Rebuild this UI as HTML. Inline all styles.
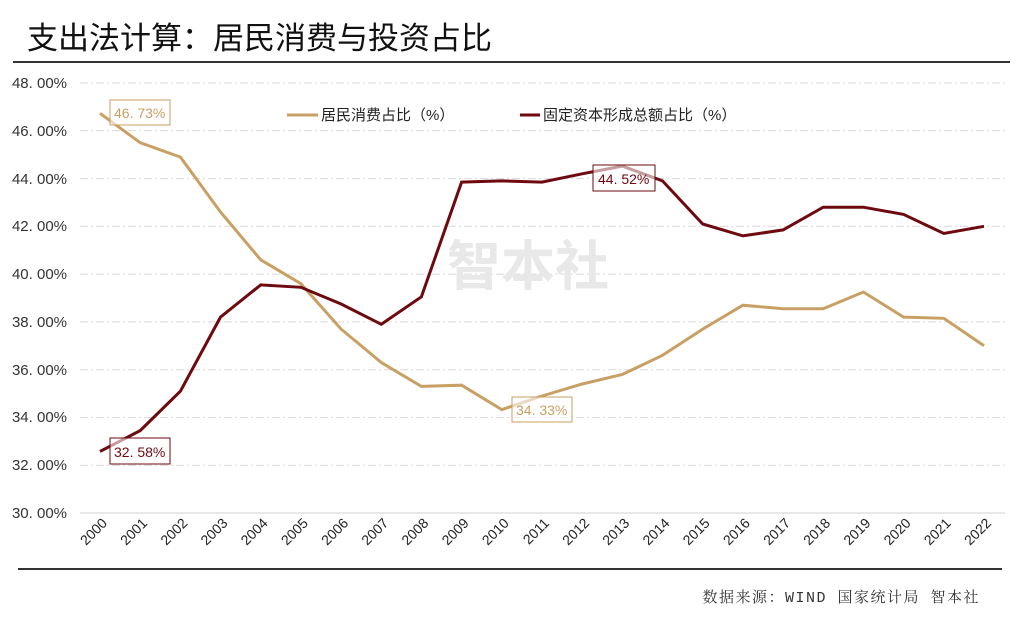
<!DOCTYPE html>
<html><head><meta charset="utf-8"><style>
body{margin:0;background:#fff;}
svg{display:block;font-family:"Liberation Sans","Noto Sans CJK SC",sans-serif;}
</style></head><body>
<svg width="1024" height="626" viewBox="0 0 1024 626">
<text x="27" y="49" font-size="31" fill="#111" font-family="Liberation Sans,Noto Sans CJK SC,sans-serif">支出法计算：居民消费与投资占比</text>
<line x1="13" y1="62" x2="1010" y2="62" stroke="#333" stroke-width="2"/>
<g stroke="#d9d9d9" stroke-width="1" stroke-dasharray="8,3,2,3">
<line x1="80" y1="83" x2="1005" y2="83"/><line x1="80" y1="130.8" x2="1005" y2="130.8"/>
<line x1="80" y1="178.6" x2="1005" y2="178.6"/><line x1="80" y1="226.3" x2="1005" y2="226.3"/>
<line x1="80" y1="274.1" x2="1005" y2="274.1"/><line x1="80" y1="321.9" x2="1005" y2="321.9"/>
<line x1="80" y1="369.7" x2="1005" y2="369.7"/><line x1="80" y1="417.5" x2="1005" y2="417.5"/>
<line x1="80" y1="465.2" x2="1005" y2="465.2"/>
</g>
<line x1="80" y1="513" x2="1005" y2="513" stroke="#d0d0d0"/>
<g font-size="15" fill="#333" text-anchor="end">
<text x="67" y="88">48. 00%</text><text x="67" y="136">46. 00%</text><text x="67" y="184">44. 00%</text>
<text x="67" y="231">42. 00%</text><text x="67" y="279">40. 00%</text><text x="67" y="327">38. 00%</text>
<text x="67" y="375">36. 00%</text><text x="67" y="422">34. 00%</text><text x="67" y="470">32. 00%</text>
<text x="67" y="518">30. 00%</text>
</g>
<text x="528" y="285" font-size="54" font-weight="bold" fill="#e8e8e8" text-anchor="middle">智本社</text>
<polyline fill="none" stroke="#c9a063" stroke-width="3" points="100,113.3 140.2,142.7 180.4,157.1 220.5,212 260.7,259.8 300.9,283.7 341.1,329.1 381.3,362.5 421.4,386.4 461.6,385.2 501.8,409.6 542,396 582.2,384 622.3,374.5 662.5,355.3 702.7,329.1 742.9,305.2 783.1,308.8 823.2,308.8 863.4,292 903.6,317.1 943.8,318.3 984,345.8"/>
<polyline fill="none" stroke="#6e0a0f" stroke-width="3" points="100,451.4 140.2,430.6 180.4,391.2 220.5,317.1 260.7,284.9 300.9,287.3 341.1,304 381.3,324.3 421.4,296.8 461.6,182.1 501.8,180.9 542,182.1 582.2,173.8 622.3,166.1 662.5,180.9 702.7,224 742.9,235.9 783.1,229.9 823.2,207.2 863.4,207.2 903.6,214.4 943.8,233.5 984,226.3"/>
<g font-size="14">
<rect x="110" y="100" width="60" height="25" fill="#fff" fill-opacity="0.6" stroke="#c9a063"/><text x="114" y="118" fill="#c9a063">46. 73%</text>
<rect x="110" y="438" width="60" height="26" fill="#fff" fill-opacity="0.6" stroke="#6e0a0f"/><text x="114" y="457" fill="#6e0a0f">32. 58%</text>
<rect x="593" y="165" width="62" height="26" fill="#fff" fill-opacity="0.6" stroke="#6e0a0f"/><text x="598" y="184" fill="#6e0a0f">44. 52%</text>
<rect x="512" y="397" width="60" height="25" fill="#fff" fill-opacity="0.6" stroke="#c9a063"/><text x="516" y="415" fill="#c9a063">34. 33%</text>
</g>
<line x1="287" y1="115" x2="318" y2="115" stroke="#c9a063" stroke-width="3"/>
<text x="321" y="120" font-size="15" fill="#222">居民消费占比（%）</text>
<line x1="520" y1="115" x2="540" y2="115" stroke="#6e0a0f" stroke-width="3"/>
<text x="543" y="120" font-size="15" fill="#222">固定资本形成总额占比（%）</text>
<g font-size="14" fill="#222" text-anchor="end">
<text transform="translate(108,524) rotate(-45)">2000</text><text transform="translate(148.2,524) rotate(-45)">2001</text>
<text transform="translate(188.4,524) rotate(-45)">2002</text><text transform="translate(228.5,524) rotate(-45)">2003</text>
<text transform="translate(268.7,524) rotate(-45)">2004</text><text transform="translate(308.9,524) rotate(-45)">2005</text>
<text transform="translate(349.1,524) rotate(-45)">2006</text><text transform="translate(389.3,524) rotate(-45)">2007</text>
<text transform="translate(429.4,524) rotate(-45)">2008</text><text transform="translate(469.6,524) rotate(-45)">2009</text>
<text transform="translate(509.8,524) rotate(-45)">2010</text><text transform="translate(550,524) rotate(-45)">2011</text>
<text transform="translate(590.2,524) rotate(-45)">2012</text><text transform="translate(630.3,524) rotate(-45)">2013</text>
<text transform="translate(670.5,524) rotate(-45)">2014</text><text transform="translate(710.7,524) rotate(-45)">2015</text>
<text transform="translate(750.9,524) rotate(-45)">2016</text><text transform="translate(791.1,524) rotate(-45)">2017</text>
<text transform="translate(831.2,524) rotate(-45)">2018</text><text transform="translate(871.4,524) rotate(-45)">2019</text>
<text transform="translate(911.6,524) rotate(-45)">2020</text><text transform="translate(951.8,524) rotate(-45)">2021</text>
<text transform="translate(992,524) rotate(-45)">2022</text>
</g>
<line x1="18" y1="569" x2="1002" y2="569" stroke="#333" stroke-width="2"/>
<text x="980" y="602" font-size="15" fill="#333" text-anchor="end" letter-spacing="1.5" font-family="Liberation Mono,Noto Serif CJK SC,serif">数据来源：WIND 国家统计局 智本社</text>
</svg>
</body></html>
